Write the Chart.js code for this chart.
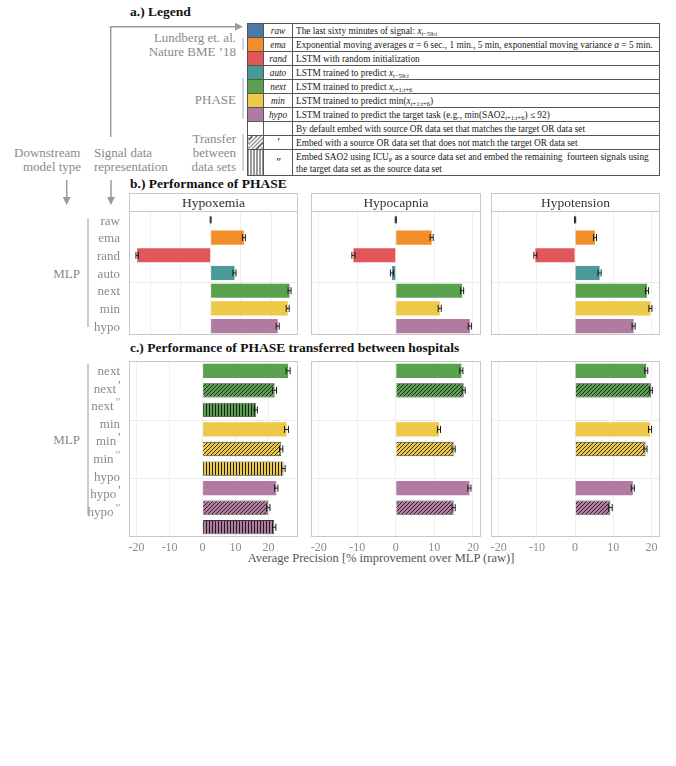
<!DOCTYPE html>
<html>
<head>
<meta charset="utf-8">
<script src="https://cdn.jsdelivr.net/npm/chart.js@4.4.1/dist/chart.umd.min.js"></script>
<style>
body { margin: 0; background: #fff; }
#figure { position: relative; width: 676px; height: 766px; overflow: hidden; font-family: 'Liberation Serif', 'DejaVu Serif', serif; }
.txt { position: absolute; white-space: nowrap; line-height: 1; }
table.legende { position: absolute; left: 247px; top: 23px; width: 413px; border-collapse: collapse; font-size: 9.3px; color: #1a1a1a; table-layout: fixed; }
table.legende td { border: 1px solid #555; padding: 0 3px; height: 13px; line-height: 12px; overflow: hidden; white-space: nowrap; color: #1a1a1a; }
table.legende td.nom { text-align: center; font-style: italic; padding: 0; }
table.legende sub { font-size: 6.5px; vertical-align: -1.5px; line-height: 0; }
.prime { font-size: 13px; font-style: italic; vertical-align: 4px; line-height: 0; margin-left: 1px; }
</style>
</head>
<body>
<div id="figure">
<svg width="676" height="766" style="position:absolute;left:0;top:0">
  <path d="M110.7 137 V26.7 H236" fill="none" stroke="#9a9a9a" stroke-width="1.5"/>
  <polygon points="243,26.7 235,22.8 235,30.6" fill="#9a9a9a"/>
  <line x1="66.7" y1="180" x2="66.7" y2="198" stroke="#9a9a9a" stroke-width="1.5"/>
  <polygon points="66.7,205 62.8,197 70.6,197" fill="#9a9a9a"/>
  <line x1="111" y1="180" x2="111" y2="198" stroke="#9a9a9a" stroke-width="1.5"/>
  <polygon points="111,205 107.1,197 114.9,197" fill="#9a9a9a"/>
  <line x1="243" y1="38" x2="243" y2="50" stroke="#aaa" stroke-width="1"/>
  <line x1="243" y1="78" x2="243" y2="119" stroke="#aaa" stroke-width="1"/>
  <line x1="243" y1="134" x2="243" y2="171" stroke="#aaa" stroke-width="1"/>
  <line x1="88" y1="218" x2="88" y2="327" stroke="#bbb" stroke-width="1.5"/>
  <line x1="88" y1="364" x2="88" y2="515" stroke="#bbb" stroke-width="1.5"/>
</svg>
<table class="legende">
  <colgroup><col style="width:16px"><col style="width:29px"><col></colgroup>
  <tbody id="corps"></tbody>
</table>
</div>
<script>
//les données
var lignesB = ['raw', 'ema', 'rand', 'auto', 'next', 'min', 'hypo'];
var lignesC = ['next', 'next′', 'next″', 'min', 'min′', 'min″', 'hypo', 'hypo′', 'hypo″'];
var titres = ['Hypoxemia', 'Hypocapnia', 'Hypotension'];
var ticksX = [-20, -10, 0, 10, 20];

var hypoxemieB = [0, 11.0, -24.3, 7.9, 26.1, 25.5, 22.2];
var hypocapnieB = [0, 9.3, -11.0, -1.0, 17.2, 11.4, 19.2];
var hypotensionB = [0, 5.2, -10.4, 6.4, 18.8, 19.7, 15.3];
var erreurHypoxemieB = [0.15, 0.5, 0.4, 0.5, 0.5, 0.5, 0.5];
var erreurHypocapnieB = [0.15, 0.4, 0.4, 0.4, 0.4, 0.4, 0.4];
var erreurHypotensionB = [0.15, 0.4, 0.4, 0.4, 0.4, 0.4, 0.4];

var hypoxemieC = [25.9, 21.8, 16.1, 25.4, 23.8, 24.5, 22.3, 19.9, 21.7];
var hypocapnieC = [17.0, 17.6, null, 11.2, 15.0, null, 19.1, 15.0, null];
var hypotensionC = [18.6, 19.8, null, 19.6, 18.4, null, 15.1, 9.2, null];
var erreurHypoxemieC = [0.6, 0.6, 0.5, 0.6, 0.5, 0.5, 0.5, 0.5, 0.5];
var erreurHypocapnieC = [0.4, 0.4, 0, 0.4, 0.4, 0, 0.4, 0.4, 0];
var erreurHypotensionC = [0.4, 0.4, 0, 0.4, 0.4, 0, 0.4, 0.5, 0];

var couleurs = {raw: '#4e79a7', ema: '#f28e2b', rand: '#e15759', auto: '#4a9a97', next: '#59a14f', min: '#edc948', hypo: '#b07aa1'};

var fig = document.getElementById('figure');
var police = "'Liberation Serif', 'DejaVu Serif', serif";

//les fonctions
function texte (contenu, x, y, align, taille, couleur, gras) {
    var d = document.createElement('div');
    d.className = 'txt';
    d.innerHTML = contenu;
    var tx = align == 'd' ? '-100%' : (align == 'c' ? '-50%' : '0');
    d.style.cssText = 'left:' + x + 'px;top:' + y + 'px;transform:translate(' + tx + ',-50%);font-size:' + taille + 'px;color:' + couleur + ';' + (gras ? 'font-weight:bold;' : '');
    fig.appendChild(d);
    return d;
}

function motif (couleur, type) {
    var t = document.createElement('canvas');
    var c = t.getContext('2d');
    if (type == 'diag') {
        t.width = 4; t.height = 4;
        c.fillStyle = couleur; c.fillRect(0, 0, 4, 4);
        c.strokeStyle = '#1e1e1e'; c.lineWidth = 0.9;
        c.beginPath();
        c.moveTo(0, 4); c.lineTo(4, 0);
        c.moveTo(-1, 1); c.lineTo(1, -1);
        c.moveTo(3, 5); c.lineTo(5, 3);
        c.stroke();
    } else {
        t.width = 3; t.height = 1;
        c.fillStyle = couleur; c.fillRect(0, 0, 3, 1);
        c.fillStyle = '#1e1e1e'; c.fillRect(1, 0, 1, 1);
    }
    return c.createPattern(t, 'repeat');
}

function base (nom) { return nom.replace('′', '').replace('″', ''); }

function etiquette (nom) {
    if (nom.indexOf('″') > 0) return base(nom) + '<span class="prime" style="color:#aaa">″</span>';
    if (nom.indexOf('′') > 0) return base(nom) + '<span class="prime" style="color:#777">′</span>';
    return nom;
}

var M = 14, T = 2, BB = 24;

function panneau (x0, y0, w, h, lignes, valeurs, erreurs, bornes, avecTicks, separateurs, pct) {
    var fonds = [], bords = [], epaisseurs = [];
    lignes.forEach(function (nom) {
        var col = couleurs[base(nom)];
        if (nom.indexOf('″') > 0) { fonds.push(motif(col, 'vert')); bords.push('#333'); epaisseurs.push(0.8); }
        else if (nom.indexOf('′') > 0) { fonds.push(motif(col, 'diag')); bords.push('#333'); epaisseurs.push(0.8); }
        else { fonds.push(col); bords.push(col); epaisseurs.push(0); }
    });
    var cv = document.createElement('canvas');
    var W = w + 2 * M, H = h + T + (avecTicks ? BB : T);
    cv.width = W; cv.height = H;
    cv.style.cssText = 'position:absolute;left:' + (x0 - M) + 'px;top:' + (y0 - T) + 'px;width:' + W + 'px;height:' + H + 'px';
    fig.appendChild(cv);
    var chart = new Chart(cv, {
        type: 'bar',
        data: {
            labels: lignes,
            datasets: [{
                data: valeurs,
                backgroundColor: fonds,
                borderColor: bords,
                borderWidth: epaisseurs,
                barPercentage: pct,
                categoryPercentage: 1,
                skipNull: true
            }]
        },
        options: {
            indexAxis: 'y',
            responsive: false,
            animation: false,
            layout: {padding: {left: M, right: M, top: T, bottom: avecTicks ? 0 : T}},
            plugins: {legend: {display: false}, tooltip: {enabled: false}},
            scales: {
                x: {
                    min: bornes[0], max: bornes[1],
                    grid: {color: '#f0f0f0', drawTicks: false},
                    border: {display: false},
                    ticks: {display: avecTicks, color: '#8a8a8a', font: {family: police, size: 12}, padding: 4, maxRotation: 0, autoSkip: false},
                    afterBuildTicks: function (s) { s.ticks = ticksX.map(function (v) { return {value: v}; }); },
                    afterFit: function (s) { s.paddingLeft = 0; s.paddingRight = 0; s.height = avecTicks ? BB : 0; }
                },
                y: {display: false}
            }
        },
        plugins: [{
            id: 'decor',
            beforeDatasetsDraw: function (ch) {
                var c = ch.ctx, a = ch.chartArea, ys = ch.scales.y;
                c.save();
                c.strokeStyle = '#ececec'; c.lineWidth = 1;
                separateurs.forEach(function (i) {
                    var y = Math.round((ys.getPixelForValue(i) + ys.getPixelForValue(i + 1)) / 2) + 0.5;
                    c.beginPath(); c.moveTo(a.left, y); c.lineTo(a.right, y); c.stroke();
                });
                c.restore();
            },
            afterDatasetsDraw: function (ch) {
                var c = ch.ctx, a = ch.chartArea, xs = ch.scales.x, ys = ch.scales.y;
                c.save();
                c.strokeStyle = '#1a1a1a'; c.lineWidth = 1;
                valeurs.forEach(function (v, i) {
                    if (v === null) return;
                    var e = erreurs[i];
                    var g = xs.getPixelForValue(v - e), d = xs.getPixelForValue(v + e), y = ys.getPixelForValue(i);
                    c.beginPath();
                    c.moveTo(g, y); c.lineTo(d, y);
                    c.moveTo(g, y - 3.5); c.lineTo(g, y + 3.5);
                    c.moveTo(d, y - 3.5); c.lineTo(d, y + 3.5);
                    c.stroke();
                });
                c.strokeStyle = '#c8c8c8';
                c.strokeRect(a.left + 0.5, a.top + 0.5, a.width - 1, a.height - 1);
                c.restore();
            }
        }]
    });
    return chart;
}

//la légende
var descriptions = [
    'The last sixty minutes of signal: <i>x</i><sub><i>t</i>−59:<i>t</i></sub>',
    'Exponential moving averages <i>α</i> = 6 sec., 1 min., 5 min, exponential moving variance <i>α</i> = 5 min.',
    'LSTM with random initialization',
    'LSTM trained to predict <i>x</i><sub><i>t</i>−59:<i>t</i></sub>',
    'LSTM trained to predict <i>x</i><sub><i>t</i>+1:<i>t</i>+6</sub>',
    'LSTM trained to predict min(<i>x</i><sub><i>t</i>+1:<i>t</i>+6</sub>)',
    'LSTM trained to predict the target task (e.g., min(SAO2<sub><i>t</i>+1:<i>t</i>+6</sub>) ≤ 92)',
    'By default embed with source OR data set that matches the target OR data set',
    'Embed with a source OR data set that does not match the target OR data set',
    'Embed SAO2 using ICU<sub>P</sub> as a source data set and embed the remaining&nbsp; fourteen signals using<br>the target data set as the source data set'
];
var corps = document.getElementById('corps');
descriptions.forEach(function (desc, i) {
    var tr = document.createElement('tr');
    var fond = '', nom = '';
    if (i < lignesB.length) { fond = 'background:' + couleurs[lignesB[i]]; nom = lignesB[i]; }
    else if (i == 8) { fond = 'background:repeating-linear-gradient(135deg,#fff 0 2px,#333 2px 3px)'; nom = '<span style="font-size:12px">′</span>'; }
    else if (i == 9) { fond = 'background:repeating-linear-gradient(90deg,#fff 0 2px,#333 2px 3px)'; nom = '<span style="font-size:12px">″</span>'; }
    var h = i == 9 ? 'height:25px;line-height:11px' : 'height:13px';
    tr.innerHTML = '<td style="' + fond + ';' + h + '"></td><td class="nom">' + nom + '</td><td>' + desc + '</td>';
    corps.appendChild(tr);
});

//les textes
var gris = '#8a8a8a';
texte('a.) Legend', 130, 12, 'g', 13.5, '#111', true);
texte('b.) Performance of PHASE', 130, 184, 'g', 13.5, '#111', true);
texte('c.) Performance of PHASE transferred between hospitals', 130, 348, 'g', 13.5, '#111', true);
texte('Lundberg et. al.', 236, 37, 'd', 13, gris);
texte('Nature BME ’18', 236, 51, 'd', 13, gris);
texte('PHASE', 236, 99, 'd', 13, gris);
texte('Transfer', 236, 138, 'd', 13, gris);
texte('between', 236, 152, 'd', 13, gris);
texte('data sets', 236, 166, 'd', 13, gris);
texte('Downstream', 14, 152, 'g', 13, gris);
texte('model type', 23, 166, 'g', 13, gris);
texte('Signal data', 94, 152, 'g', 13, gris);
texte('representation', 94, 166, 'g', 13, gris);
texte('MLP', 80, 273, 'd', 13, gris);
texte('MLP', 80, 439, 'd', 13, gris);
texte('Average Precision [% improvement over MLP (raw)]', 381, 558, 'c', 12.5, '#555');

//les graphiques
var colonnes = [[129, 169], [311, 170], [491, 169]];
var bornesB = [[-27.0, 28.9], [-22.0, 22.1], [-22.0, 22.2]];
var bornesC = [[-22.3, 28.9], [-22.0, 22.1], [-22.0, 22.2]];
var donneesB = [[hypoxemieB, erreurHypoxemieB], [hypocapnieB, erreurHypocapnieB], [hypotensionB, erreurHypotensionB]];
var donneesC = [[hypoxemieC, erreurHypoxemieC], [hypocapnieC, erreurHypocapnieC], [hypotensionC, erreurHypotensionC]];
var premier;
colonnes.forEach(function (col, k) {
    var strip = document.createElement('div');
    strip.style.cssText = 'position:absolute;left:' + col[0] + 'px;top:193px;width:' + (col[1] - 2) + 'px;height:17px;border:1px solid #c8c8c8;border-bottom:none;text-align:center;line-height:17px;font-size:13.5px;color:#333;';
    strip.textContent = titres[k];
    fig.appendChild(strip);
    var chB = panneau(col[0], 210.7, col[1], 124.3, lignesB, donneesB[k][0], donneesB[k][1], bornesB[k], false, [3], 0.8);
    panneau(col[0], 361, col[1], 176, lignesC, donneesC[k][0], donneesC[k][1], bornesC[k], true, [2, 5], 0.73);
    if (k == 0) premier = chB;
});

//les étiquettes des lignes
lignesB.forEach(function (nom, i) {
    var y = premier.scales.y.getPixelForValue(i) + 210.7 - T;
    texte(nom, 120, y, 'd', 13, gris);
});
lignesC.forEach(function (nom, i) {
    texte(etiquette(nom), 120, 370 + i * 17.6, 'd', 13, gris);
});
</script>
</body>
</html>
